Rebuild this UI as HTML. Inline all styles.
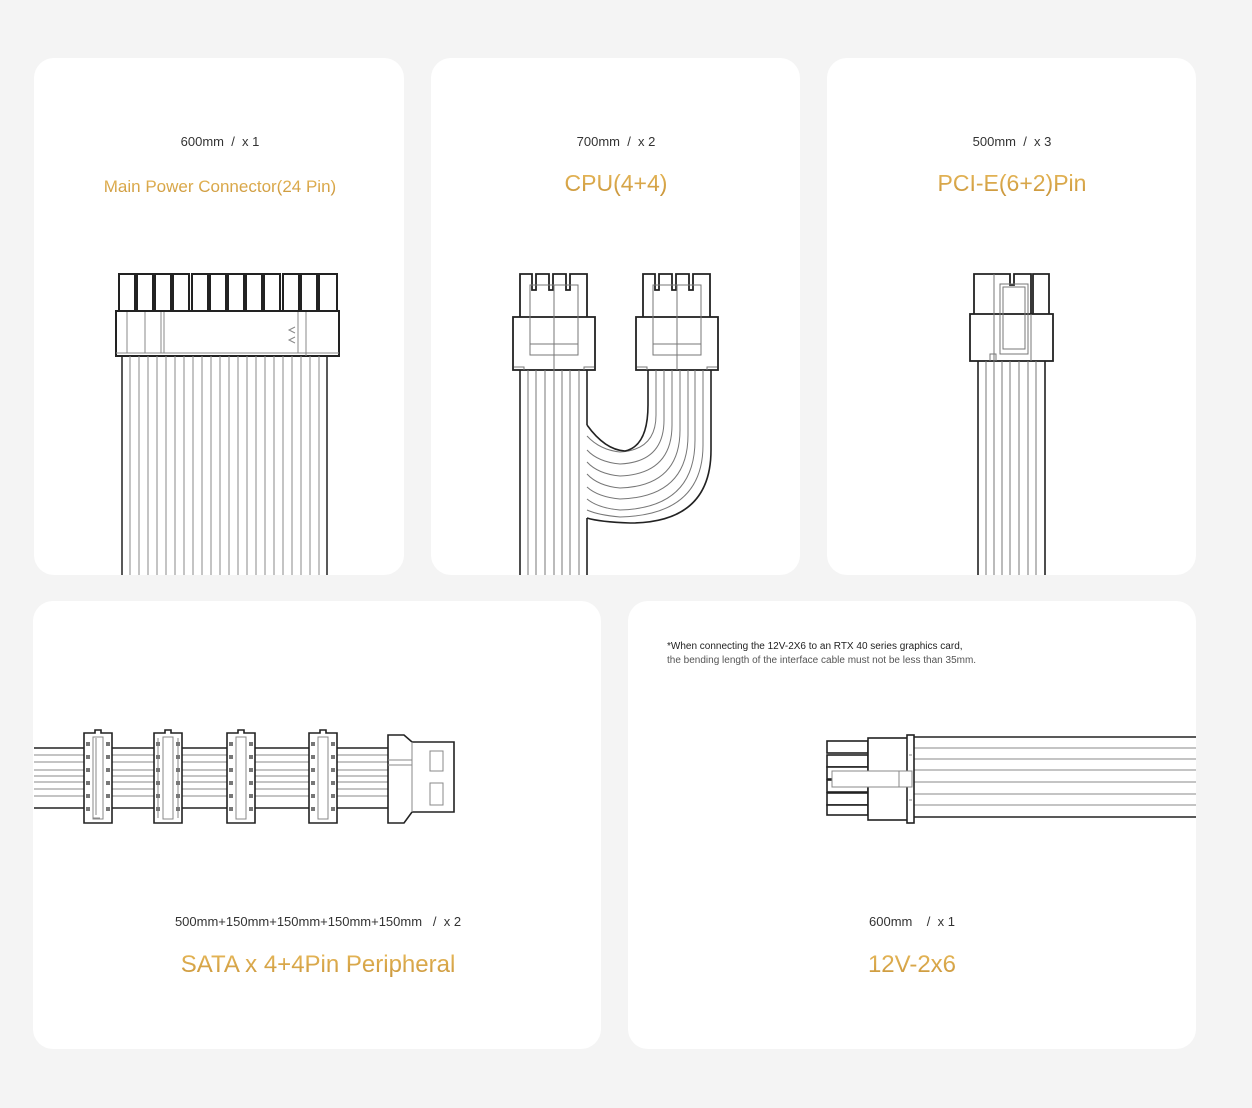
<!DOCTYPE html>
<html><head><meta charset="utf-8"><style>
html,body{margin:0;padding:0;background:#f4f4f4;}
svg{display:block}
text{font-family:"Liberation Sans",sans-serif;white-space:pre}
</style></head><body>
<svg width="1252" height="1108" viewBox="0 0 1252 1108" xmlns="http://www.w3.org/2000/svg" xml:space="preserve">
<defs>
<linearGradient id="g" x1="0" y1="0" x2="0" y2="1"><stop offset="0" stop-color="#e8b95a"/><stop offset="1" stop-color="#c9953a"/></linearGradient>
</defs>
<rect width="1252" height="1108" fill="#f4f4f4"/>
<rect x="34" y="58" width="370" height="517" rx="20" fill="#fff"/>
<rect x="431" y="58" width="369" height="517" rx="20" fill="#fff"/>
<rect x="827" y="58" width="369" height="517" rx="20" fill="#fff"/>
<rect x="33" y="601" width="568" height="448" rx="20" fill="#fff"/>
<rect x="628" y="601" width="568" height="448" rx="20" fill="#fff"/>

<g font-size="13" fill="#333" text-anchor="middle">
<text x="220" y="146">600mm  /  x 1</text>
<text x="616" y="146">700mm  /  x 2</text>
<text x="1012" y="146">500mm  /  x 3</text>
<text x="318" y="926">500mm+150mm+150mm+150mm+150mm   /  x 2</text>
<text x="912" y="926">600mm    /  x 1</text>
</g>
<g fill="url(#g)" text-anchor="middle">
<text x="220" y="192" font-size="17">Main Power Connector(24 Pin)</text>
<text x="616" y="191" font-size="23">CPU(4+4)</text>
<text x="1012" y="191" font-size="23">PCI-E(6+2)Pin</text>
<text x="318" y="972" font-size="24">SATA x 4+4Pin Peripheral</text>
<text x="912" y="972" font-size="24">12V-2x6</text>
</g>
<text x="667" y="649" font-size="10" fill="#222">*When connecting the 12V-2X6 to an RTX 40 series graphics card,</text>
<text x="667" y="663" font-size="10" fill="#555">the bending length of the interface cable must not be less than 35mm.</text>

<!-- 24 pin -->
<g fill="#fff" stroke="#222" stroke-width="2">
<rect x="119" y="274" width="16" height="40"/><rect x="137" y="274" width="16" height="40"/><rect x="155" y="274" width="16" height="40"/><rect x="173" y="274" width="16" height="40"/><rect x="192" y="274" width="16" height="40"/><rect x="210" y="274" width="16" height="40"/><rect x="228" y="274" width="16" height="40"/><rect x="246" y="274" width="16" height="40"/><rect x="264" y="274" width="16" height="40"/><rect x="283" y="274" width="16" height="40"/><rect x="301" y="274" width="16" height="40"/><rect x="319" y="274" width="18" height="40"/>
<rect x="116" y="311" width="223" height="45"/>
</g>
<g stroke="#888" stroke-width="1" fill="none">
<line x1="116" y1="353" x2="339" y2="353"/><line x1="127" y1="312" x2="127" y2="353"/><line x1="145" y1="312" x2="145" y2="353"/><line x1="161" y1="312" x2="161" y2="353"/><line x1="164" y1="312" x2="164" y2="353"/><line x1="298" y1="312" x2="298" y2="353"/><line x1="306" y1="312" x2="306" y2="356"/>
<path d="M295 327 L289 330 L295 333 M295 337 L289 340 L295 343"/>
<line x1="130" y1="356" x2="130" y2="575"/><line x1="139" y1="356" x2="139" y2="575"/><line x1="148" y1="356" x2="148" y2="575"/><line x1="157" y1="356" x2="157" y2="575"/><line x1="166" y1="356" x2="166" y2="575"/><line x1="175" y1="356" x2="175" y2="575"/><line x1="184" y1="356" x2="184" y2="575"/><line x1="193" y1="356" x2="193" y2="575"/><line x1="202" y1="356" x2="202" y2="575"/><line x1="211" y1="356" x2="211" y2="575"/><line x1="220" y1="356" x2="220" y2="575"/><line x1="229" y1="356" x2="229" y2="575"/><line x1="238" y1="356" x2="238" y2="575"/><line x1="247" y1="356" x2="247" y2="575"/><line x1="256" y1="356" x2="256" y2="575"/><line x1="265" y1="356" x2="265" y2="575"/><line x1="274" y1="356" x2="274" y2="575"/><line x1="283" y1="356" x2="283" y2="575"/><line x1="292" y1="356" x2="292" y2="575"/><line x1="301" y1="356" x2="301" y2="575"/><line x1="310" y1="356" x2="310" y2="575"/><line x1="319" y1="356" x2="319" y2="575"/>
</g>
<g stroke="#222" stroke-width="1.5"><line x1="122" y1="356" x2="122" y2="575"/><line x1="327" y1="356" x2="327" y2="575"/></g>

<!-- CPU -->
<g fill="#fff" stroke="#222" stroke-width="1.8">
<path d="M520 317 V274 H532 V290 H536 V274 H549 V290 H553 V274 H566 V290 H570 V274 H587 V317"/>
<rect x="513" y="317" width="82" height="53"/>
<path d="M643 317 V274 H655 V290 H659 V274 H672 V290 H676 V274 H689 V290 H693 V274 H710 V317"/>
<rect x="636" y="317" width="82" height="53"/>
</g>
<g fill="none" stroke="#777" stroke-width="1">
<rect x="530" y="285" width="48" height="70"/><line x1="554" y1="285" x2="554" y2="370"/><line x1="530" y1="344" x2="578" y2="344"/>
<rect x="653" y="285" width="48" height="70"/><line x1="677" y1="285" x2="677" y2="370"/><line x1="653" y1="344" x2="701" y2="344"/>
<path d="M514 367 H524 V370 M594 367 H584 V370 M637 367 H647 V370 M717 367 H707 V370"/>
<line x1="528" y1="370" x2="528" y2="575"/><line x1="536" y1="370" x2="536" y2="575"/><line x1="545" y1="370" x2="545" y2="575"/><line x1="554" y1="370" x2="554" y2="575"/><line x1="562" y1="370" x2="562" y2="575"/><line x1="570" y1="370" x2="570" y2="575"/><line x1="579" y1="370" x2="579" y2="575"/>
<path d="M656 370 V415 Q656 450 620 452 Q600 450 587 436"/>
<path d="M664 370 V420 Q664 462 620 464 Q598 462 587 450"/>
<path d="M672 370 V425 Q672 474 620 476 Q598 474 587 462"/>
<path d="M680 370 V430 Q680 486 620 488 Q598 486 587 474"/>
<path d="M688 370 V435 Q688 497 620 499 Q598 497 587 487"/>
<path d="M695 370 V440 Q695 508 620 510 Q598 508 587 499"/>
<path d="M703 370 V445 Q703 515 620 517 Q598 515 587 510"/>
</g>
<g fill="none" stroke="#222" stroke-width="1.6">
<line x1="520" y1="370" x2="520" y2="575"/><line x1="587" y1="370" x2="587" y2="425"/><line x1="587" y1="518" x2="587" y2="575"/>
<path d="M648 370 V405 Q648 446 625 451 Q605 450 587 425"/>
<path d="M711 370 V450 Q711 523 630 523 Q600 522 587 518"/>
</g>

<!-- PCIe -->
<g fill="#fff" stroke="#222" stroke-width="1.8">
<path d="M974 314 V274 H1010 V285 H1014 V274 H1031 V314 M1033 314 V274 H1049 V314"/>
<rect x="970" y="314" width="83" height="47"/>
</g>
<g fill="none" stroke="#777" stroke-width="1">
<line x1="994" y1="274" x2="994" y2="361"/><rect x="1000" y="284" width="28" height="70"/><rect x="1003" y="287" width="22" height="62"/>
<line x1="1031" y1="314" x2="1031" y2="361"/>
<path d="M990 361 V354 H996 V361"/>
<line x1="986" y1="361" x2="986" y2="575"/><line x1="994" y1="361" x2="994" y2="575"/><line x1="1002" y1="361" x2="1002" y2="575"/><line x1="1010" y1="361" x2="1010" y2="575"/><line x1="1019" y1="361" x2="1019" y2="575"/><line x1="1028" y1="361" x2="1028" y2="575"/><line x1="1036" y1="361" x2="1036" y2="575"/>
</g>
<g stroke="#222" stroke-width="1.6"><line x1="978" y1="361" x2="978" y2="575"/><line x1="1045" y1="361" x2="1045" y2="575"/></g>

<!-- SATA -->
<g stroke="#888" stroke-width="1">
<line x1="34" y1="748" x2="388" y2="748"/><line x1="34" y1="755" x2="388" y2="755"/><line x1="34" y1="762" x2="388" y2="762"/><line x1="34" y1="770" x2="388" y2="770"/><line x1="34" y1="776" x2="388" y2="776"/><line x1="34" y1="782" x2="388" y2="782"/><line x1="34" y1="789" x2="388" y2="789"/><line x1="34" y1="796" x2="388" y2="796"/>
</g>
<g stroke="#222" stroke-width="1.6"><line x1="34" y1="748" x2="388" y2="748"/><line x1="34" y1="808" x2="388" y2="808"/></g>
<g fill="#fff" stroke="#222" stroke-width="1.6">
<path d="M84 733 H95 V730 H101 V733 H112 V823 H84 Z"/>
<path d="M154 733 H165 V730 H171 V733 H182 V823 H154 Z"/>
<path d="M227 733 H238 V730 H244 V733 H255 V823 H227 Z"/>
<path d="M309 733 H320 V730 H326 V733 H337 V823 H309 Z"/>
<path d="M388 748 V735 H404 L412 742 H454 V812 H412 L404 823 H388 Z"/>
</g>
<g fill="none" stroke="#888" stroke-width="1">
<path d="M93 738 V818 H100 M103 738 V816 M158 738 V818 M178 738 V818 M96 738 V815"/>
<rect x="93" y="737" width="10" height="82"/><rect x="163" y="737" width="10" height="82"/><rect x="236" y="737" width="10" height="82"/><rect x="318" y="737" width="10" height="82"/>
<line x1="412" y1="742" x2="412" y2="812"/><line x1="388" y1="760" x2="412" y2="760"/><line x1="388" y1="765" x2="412" y2="765"/>
<rect x="430" y="751" width="13" height="20"/><rect x="430" y="783" width="13" height="22"/>
</g>
<g fill="#777">
<rect x="86" y="742" width="4" height="4"/><rect x="86" y="755" width="4" height="4"/><rect x="86" y="768" width="4" height="4"/><rect x="86" y="781" width="4" height="4"/><rect x="86" y="794" width="4" height="4"/><rect x="86" y="807" width="4" height="4"/>
<rect x="106" y="742" width="4" height="4"/><rect x="106" y="755" width="4" height="4"/><rect x="106" y="768" width="4" height="4"/><rect x="106" y="781" width="4" height="4"/><rect x="106" y="794" width="4" height="4"/><rect x="106" y="807" width="4" height="4"/>
<rect x="156" y="742" width="4" height="4"/><rect x="156" y="755" width="4" height="4"/><rect x="156" y="768" width="4" height="4"/><rect x="156" y="781" width="4" height="4"/><rect x="156" y="794" width="4" height="4"/><rect x="156" y="807" width="4" height="4"/>
<rect x="176" y="742" width="4" height="4"/><rect x="176" y="755" width="4" height="4"/><rect x="176" y="768" width="4" height="4"/><rect x="176" y="781" width="4" height="4"/><rect x="176" y="794" width="4" height="4"/><rect x="176" y="807" width="4" height="4"/>
<rect x="229" y="742" width="4" height="4"/><rect x="229" y="755" width="4" height="4"/><rect x="229" y="768" width="4" height="4"/><rect x="229" y="781" width="4" height="4"/><rect x="229" y="794" width="4" height="4"/><rect x="229" y="807" width="4" height="4"/>
<rect x="249" y="742" width="4" height="4"/><rect x="249" y="755" width="4" height="4"/><rect x="249" y="768" width="4" height="4"/><rect x="249" y="781" width="4" height="4"/><rect x="249" y="794" width="4" height="4"/><rect x="249" y="807" width="4" height="4"/>
<rect x="311" y="742" width="4" height="4"/><rect x="311" y="755" width="4" height="4"/><rect x="311" y="768" width="4" height="4"/><rect x="311" y="781" width="4" height="4"/><rect x="311" y="794" width="4" height="4"/><rect x="311" y="807" width="4" height="4"/>
<rect x="331" y="742" width="4" height="4"/><rect x="331" y="755" width="4" height="4"/><rect x="331" y="768" width="4" height="4"/><rect x="331" y="781" width="4" height="4"/><rect x="331" y="794" width="4" height="4"/><rect x="331" y="807" width="4" height="4"/>
</g>

<!-- 12V-2x6 -->
<g stroke="#888" stroke-width="1">
<line x1="914" y1="748" x2="1196" y2="748"/><line x1="914" y1="759" x2="1196" y2="759"/><line x1="914" y1="770" x2="1196" y2="770"/><line x1="914" y1="782" x2="1196" y2="782"/><line x1="914" y1="794" x2="1196" y2="794"/><line x1="914" y1="805" x2="1196" y2="805"/>
</g>
<g stroke="#222" stroke-width="1.6"><line x1="914" y1="737" x2="1196" y2="737"/><line x1="914" y1="817" x2="1196" y2="817"/></g>
<g fill="#fff" stroke="#222" stroke-width="1.6">
<rect x="827" y="741" width="41" height="12"/><rect x="827" y="755" width="41" height="12"/><rect x="827" y="767" width="41" height="12"/><rect x="827" y="780" width="41" height="12"/><rect x="827" y="793" width="41" height="12"/><rect x="827" y="805" width="41" height="10"/>
<rect x="868" y="738" width="44" height="82"/>
<rect x="907" y="735" width="7" height="88"/>
</g>
<g fill="#fff" stroke="#888" stroke-width="1">
<rect x="832" y="771" width="80" height="16"/><line x1="899" y1="771" x2="899" y2="787"/>
<line x1="909" y1="755" x2="912" y2="755"/><line x1="909" y1="800" x2="912" y2="800"/>
</g>
</svg>
</body></html>
